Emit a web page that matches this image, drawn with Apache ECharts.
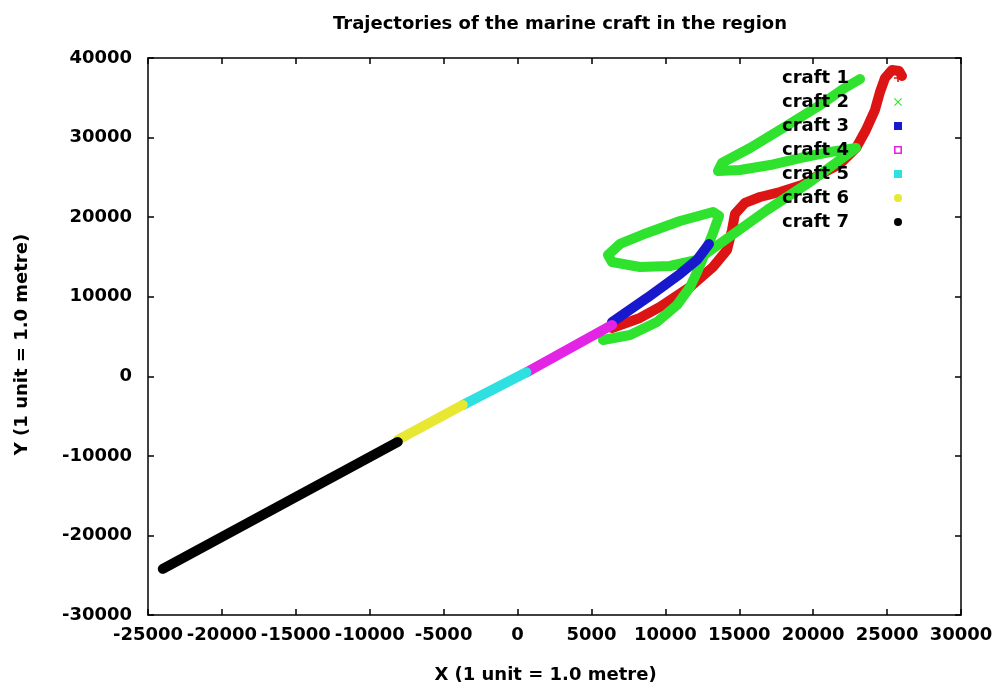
<!DOCTYPE html>
<html>
<head>
<meta charset="utf-8">
<title>Trajectories of the marine craft in the region</title>
<script src="https://cdn.jsdelivr.net/npm/echarts@6/dist/echarts.min.js"></script>
<style>
html, body { margin: 0; padding: 0; background: #fff; }
#chart { width: 998px; height: 695px; }
</style>
</head>
<body>
<div id="chart"></div>
<script>
// craft tracks, [x, y] in metres
const craft1 = [[6390, 6070], [8280, 7330], [9640, 8710], [11670, 11220], [13220, 13740], [14170, 15870],
  [14510, 18390], [14710, 20400], [15390, 21780], [16400, 22530], [17760, 23160], [19240, 24040],
  [20390, 25300], [21810, 26680], [22900, 28690], [23570, 30950], [24180, 33470], [24520, 35730],
  [24860, 37490], [25330, 38490], [25810, 38370], [26010, 37740]]
const craft2 = [[5780, 4560], [7610, 5190], [9430, 6820], [10790, 8960], [11670, 11220], [12210, 13360],
  [12680, 15490], [13220, 18010], [13630, 20140], [13220, 20650], [10990, 19520], [8760, 18010],
  [6930, 16630], [6120, 15240], [6390, 14360], [8280, 13740], [10310, 13860], [12140, 14620],
  [16880, 20900], [19780, 24420], [22900, 28690], [21140, 28190], [19110, 27430], [17080, 26550],
  [15050, 25930], [13560, 25800], [13830, 26810], [15730, 28690], [17960, 31200], [20260, 33840],
  [22020, 36100], [23170, 37360]]
const craft3 = [[6390, 6820], [8760, 9840], [10990, 12860], [12140, 14620], [12950, 16630]]
const craft4 = [[600, 500], [6400, 6450]]
const craft5 = [[-3700, -3600], [600, 500]]
const craft6 = [[-8100, -8000], [-3700, -3600]]
const craft7 = [[-24000, -24200], [-8100, -8250]]

const craftNames = ['craft 1', 'craft 2', 'craft 3', 'craft 4', 'craft 5', 'craft 6', 'craft 7']
const craftColors = ['#dd1414', '#2ee22e', '#1818cc', '#e424e4', '#2ee0e0', '#e8e832', '#000000']
const craftIcons = [
  'path://M4,0H6V4H10V6H6V10H4V6H0V4H4Z',
  'path://M1,0L5,4L9,0L10,1L6,5L10,9L9,10L5,6L1,10L0,9L4,5L0,1Z',
  'rect',
  'path://M0,0H10V10H0ZM2,2V8H8V2Z',
  'rect',
  'circle',
  'circle'
]

const xMin = -25000, xMax = 30000, xStep = 5000
const yMin = -30000, yMax = 40000, yStep = 10000

const font = 'DejaVu Sans'
const textBase = { color: '#000', fontFamily: font, fontWeight: 'bold', fontSize: 18 }

const tracks = [craft1, craft2, craft3, craft4, craft5, craft6, craft7]

const chart = echarts.init(document.getElementById('chart'), null, { renderer: 'canvas' })

const axisCommon = {
  type: 'value',
  axisLine: { show: true, onZero: false, lineStyle: { color: '#000', width: 1.5 } },
  axisTick: { show: true, inside: true, length: 6, lineStyle: { color: '#000', width: 1.5 } },
  splitLine: { show: false }
}

const option = {
  animation: false,
  backgroundColor: '#fff',
  title: {
    text: 'Trajectories of the marine craft in the region',
    left: 328,
    top: 10,
    textStyle: { ...textBase }
  },
  grid: { left: 148, right: 37, top: 58, bottom: 80, containLabel: false, outerBoundsMode: 'none' },
  legend: [
    {
      // labels
      orient: 'vertical',
      left: 764,
      top: 64,
      itemGap: 6,
      itemWidth: 8,
      itemHeight: 8,
      icon: 'rect',
      itemStyle: { opacity: 0 },
      selectedMode: false,
      data: craftNames,
      textStyle: { ...textBase, lineHeight: 18, padding: 0 }
    },
    {
      // point symbols
      orient: 'vertical',
      left: 889,
      top: 64,
      itemGap: 6,
      itemWidth: 8,
      itemHeight: 8,
      selectedMode: false,
      itemStyle: { borderWidth: 0 },
      formatter: () => ' ',
      data: craftNames.map((n, i) => ({ name: n, icon: craftIcons[i] })),
      textStyle: { ...textBase, lineHeight: 18, padding: 0 }
    }
  ],
  xAxis: [
    {
      ...axisCommon,
      position: 'bottom',
      min: xMin, max: xMax, interval: xStep,
      axisLabel: { ...textBase, margin: 11, formatter: v => String(v) },
      name: 'X (1 unit = 1.0 metre)',
      nameLocation: 'middle',
      nameGap: 51,
      nameTextStyle: { ...textBase, padding: [0, 18, 0, 0] }
    },
    {
      ...axisCommon,
      position: 'top',
      min: xMin, max: xMax, interval: xStep,
      axisLabel: { show: false }
    }
  ],
  yAxis: [
    {
      ...axisCommon,
      position: 'left',
      min: yMin, max: yMax, interval: yStep,
      axisLabel: { ...textBase, margin: 16, formatter: v => String(v) },
      name: 'Y (1 unit = 1.0 metre)',
      nameLocation: 'middle',
      nameGap: 117,
      nameTextStyle: { ...textBase, padding: [0, 16, 0, 0] }
    },
    {
      ...axisCommon,
      position: 'right',
      min: yMin, max: yMax, interval: yStep,
      axisLabel: { show: false }
    }
  ],
  series: tracks.map((d, i) => ({
    name: craftNames[i],
    type: 'line',
    data: d,
    showSymbol: false,
    symbol: 'none',
    color: craftColors[i],
    lineStyle: { color: craftColors[i], width: 10, cap: 'round', join: 'round' },
    emphasis: { disabled: true },
    silent: true
  }))
}

chart.setOption(option)
</script>
</body>
</html>
